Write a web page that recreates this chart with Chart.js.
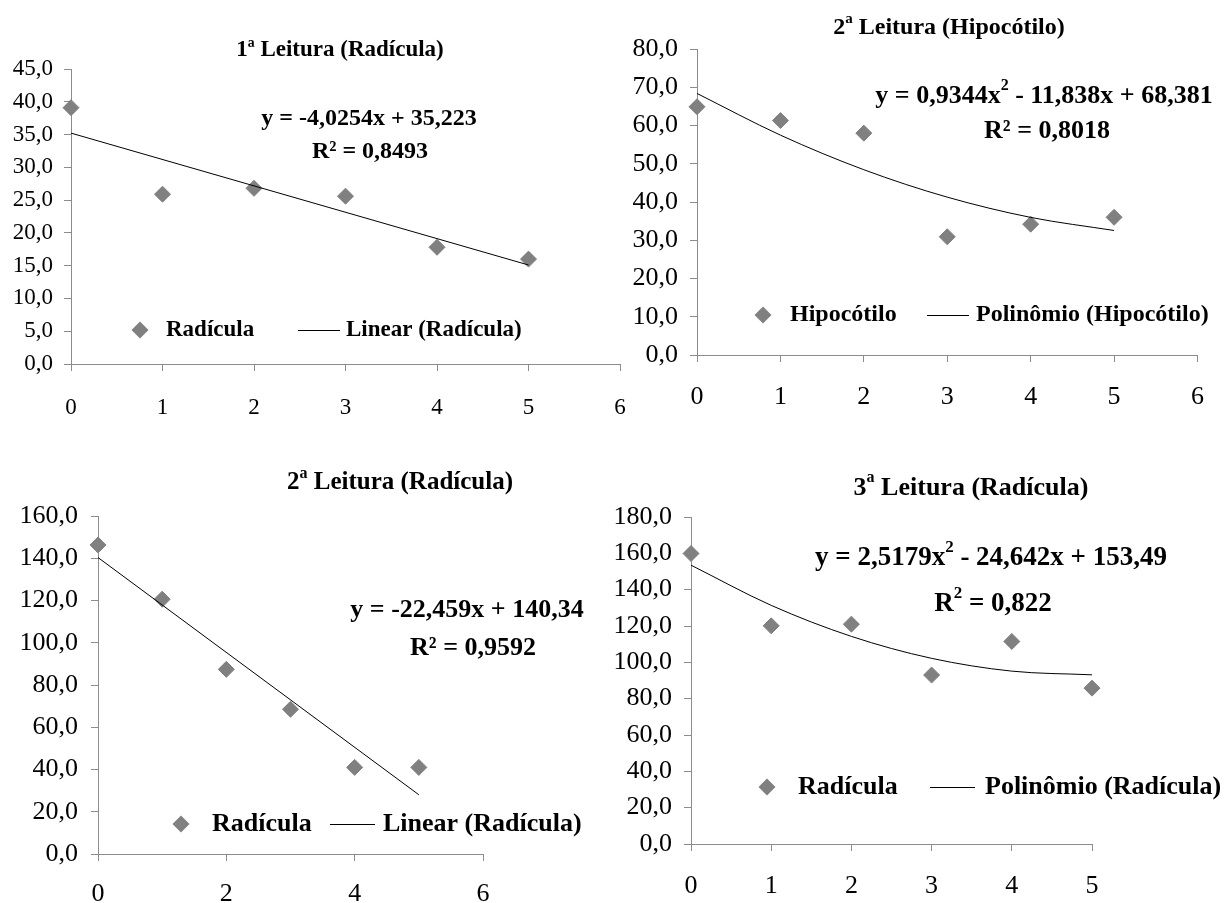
<!DOCTYPE html>
<html>
<head>
<meta charset="utf-8">
<script src="https://cdn.jsdelivr.net/npm/chart.js@4.4.1/dist/chart.umd.min.js"></script>
<style>
  html, body { margin: 0; padding: 0; background: #fff; }
  #quadro { position: relative; width: 1224px; height: 903px; overflow: hidden; }
  #quadro canvas { position: absolute; left: 0; top: 0; }
</style>
</head>
<body>
<div id="quadro">
  <canvas id="g1" width="1224" height="903"></canvas>
  <canvas id="g2" width="1224" height="903"></canvas>
  <canvas id="g3" width="1224" height="903"></canvas>
  <canvas id="g4" width="1224" height="903"></canvas>
</div>
<script>
// valores
const doses = [0, 1, 2, 3, 4, 5];

const radicula1 = [39.1, 25.9, 26.8, 25.6, 17.8, 16.0];
const tendX1 = [0, 5];
const tend1 = [35.22, 15.10];

const hipocotilo2 = [64.9, 61.3, 58.0, 30.9, 34.2, 36.0];
const tend2 = [68.38, 57.48, 48.44, 41.27, 35.98, 32.55];

const radicula2 = [146.3, 120.6, 87.4, 68.5, 41.0, 41.0];
const tendX3 = [0, 5];
const tend3 = [140.34, 28.05];

const radicula3 = [159.9, 120.1, 121.0, 93.0, 111.5, 85.8];
const tend4 = [153.49, 131.37, 114.28, 102.20, 95.16, 93.13];

// eixos: [min, max, passo]
const eixoX1 = [0, 6, 1], eixoY1 = [0, 45, 5];
const eixoX2 = [0, 6, 1], eixoY2 = [0, 80, 10];
const eixoX3 = [0, 6, 2], eixoY3 = [0, 160, 20];
const eixoX4 = [0, 5, 1], eixoY4 = [0, 180, 20];

const FONTE = '"Liberation Serif", "Times New Roman", serif';
const CINZA = '#808080';
const EIXO = '#8c8c8c';

// texto com '^' marcando o caractere sobrescrito
function textoRico(ctx, str, x, y, tam, alinhar) {
  const partes = [];
  for (let i = 0; i < str.length; i++) {
    if (str[i] === '^') { partes.push({ t: str[i + 1], sup: true }); i++; }
    else {
      const ult = partes[partes.length - 1];
      if (ult && !ult.sup) ult.t += str[i]; else partes.push({ t: str[i], sup: false });
    }
  }
  const fN = 'bold ' + tam + 'px ' + FONTE;
  const fS = 'bold ' + Math.round(tam * 0.62) + 'px ' + FONTE;
  let total = 0;
  partes.forEach(p => { ctx.font = p.sup ? fS : fN; p.w = ctx.measureText(p.t).width; total += p.w; });
  let cx = alinhar === 'left' ? x : x - total / 2;
  ctx.textAlign = 'left';
  ctx.textBaseline = 'middle';
  partes.forEach(p => {
    ctx.font = p.sup ? fS : fN;
    ctx.fillText(p.t, cx, p.sup ? y - tam * 0.38 : y);
    cx += p.w;
  });
}

function losango(ctx, x, y, r) {
  ctx.beginPath();
  ctx.moveTo(x - r, y); ctx.lineTo(x, y - r); ctx.lineTo(x + r, y); ctx.lineTo(x, y + r);
  ctx.closePath();
  ctx.fillStyle = CINZA;
  ctx.fill();
}

const sobreposicao = {
  id: 'sobreposicao',
  afterDraw(chart, args, o) {
    const ctx = chart.ctx;
    const ds = chart.data.datasets;
    const f = o.fontes; // [titulo, equacao, legenda]
    ctx.save();
    ctx.fillStyle = '#000';
    textoRico(ctx, o.titulo, o.tituloPos[0], o.tituloPos[1], f[0], 'center');
    o.eq.forEach((t, i) => textoRico(ctx, t, o.eqPos[i][0], o.eqPos[i][1], f[1], 'center'));
    const L = o.legenda; // [losango x, texto1 x, linha x0, linha x1, texto2 x, y]
    losango(ctx, L[0], L[5], 8.5);
    ctx.fillStyle = '#000';
    textoRico(ctx, ds[1].label, L[1], L[5], f[2], 'left');
    ctx.beginPath();
    ctx.moveTo(L[2], L[5] + 0.5); ctx.lineTo(L[3], L[5] + 0.5);
    ctx.strokeStyle = '#000'; ctx.lineWidth = 1; ctx.stroke();
    textoRico(ctx, ds[0].label, L[4], L[5], f[2], 'left');
    ctx.restore();
  }
};

const rotulo = v => v.toFixed(1).replace('.', ',');

function grafico(id, c) {
  new Chart(document.getElementById(id), {
    type: 'scatter',
    data: {
      datasets: [
        {
          label: c.nomeTend,
          data: c.tx.map((v, i) => ({ x: v, y: c.ty[i] })),
          showLine: true,
          pointRadius: 0,
          borderColor: '#000',
          borderWidth: 1,
          cubicInterpolationMode: 'monotone',
          clip: false,
          order: 0
        },
        {
          label: c.nome,
          data: c.x.map((v, i) => ({ x: v, y: c.y[i] })),
          pointStyle: 'rectRot',
          pointRadius: 8,
          pointHoverRadius: 8,
          backgroundColor: CINZA,
          borderColor: CINZA,
          borderWidth: 1,
          clip: false,
          order: 1
        }
      ]
    },
    options: {
      responsive: false,
      animation: false,
      events: [],
      layout: { padding: c.pad },
      plugins: {
        legend: { display: false },
        tooltip: { enabled: false },
        sobreposicao: c.texto
      },
      scales: {
        x: {
          type: 'linear',
          min: c.ex[0], max: c.ex[1],
          ticks: { stepSize: c.ex[2], padding: c.padX, color: '#000', font: { family: FONTE, size: c.fTick } },
          grid: { drawOnChartArea: false, tickLength: 7, color: EIXO },
          border: { color: EIXO },
          afterFit: s => { s.height = c.altX; }
        },
        y: {
          min: c.ey[0], max: c.ey[1],
          ticks: { stepSize: c.ey[2], padding: c.padY, color: '#000', font: { family: FONTE, size: c.fTick }, callback: rotulo },
          grid: { drawOnChartArea: false, tickLength: 7, color: EIXO },
          border: { color: EIXO },
          afterFit: s => { s.width = c.largY; }
        }
      }
    },
    plugins: [sobreposicao]
  });
}

grafico('g1', {
  nome: 'Radícula', nomeTend: 'Linear (Radícula)',
  x: doses, y: radicula1, tx: tendX1, ty: tend1,
  ex: eixoX1, ey: eixoY1, fTick: 23,
  pad: { left: 1, top: 69, right: 604, bottom: 469 }, altX: 70, padX: 23, largY: 70, padY: 11,
  texto: {
    fontes: [23, 24, 23],
    titulo: '1ª Leitura (Radícula)', tituloPos: [340, 50],
    eq: ['y = -4,0254x + 35,223', 'R² = 0,8493'], eqPos: [[369, 119], [370, 152]],
    legenda: [140, 166, 298, 340, 346, 330]
  }
});

grafico('g2', {
  nome: 'Hipocótilo', nomeTend: 'Polinômio (Hipocótilo)',
  x: doses, y: hipocotilo2, tx: doses, ty: tend2,
  ex: eixoX2, ey: eixoY2, fTick: 26,
  pad: { left: 622, top: 49, right: 13, bottom: 478 }, altX: 70, padX: 20, largY: 75, padY: 12,
  texto: {
    fontes: [24, 26, 24],
    titulo: '2^a Leitura (Hipocótilo)', tituloPos: [949, 28],
    eq: ['y = 0,9344x^2 - 11,838x + 68,381', 'R² = 0,8018'], eqPos: [[1044, 96], [1047, 131]],
    legenda: [763, 790, 927, 969, 976, 315]
  }
});

grafico('g3', {
  nome: 'Radícula', nomeTend: 'Linear (Radícula)',
  x: doses, y: radicula2, tx: tendX3, ty: tend3,
  ex: eixoX3, ey: eixoY3, fTick: 26,
  pad: { left: 8, top: 516, right: 741, bottom: 0 }, altX: 49, padX: 18, largY: 90, padY: 13,
  texto: {
    fontes: [25, 26, 26],
    titulo: '2^a Leitura (Radícula)', tituloPos: [400, 483],
    eq: ['y = -22,459x + 140,34', 'R² = 0,9592'], eqPos: [[467, 610], [473, 648]],
    legenda: [181, 212, 330, 375, 383, 824]
  }
});

grafico('g4', {
  nome: 'Radícula', nomeTend: 'Polinômio (Radícula)',
  x: doses, y: radicula3, tx: doses, ty: tend4,
  ex: eixoX4, ey: eixoY4, fTick: 26,
  pad: { left: 606, top: 517, right: 132, bottom: 0 }, altX: 59, padX: 20, largY: 85, padY: 12,
  texto: {
    fontes: [26, 27, 26],
    titulo: '3^a Leitura (Radícula)', tituloPos: [971, 488],
    eq: ['y = 2,5179x^2 - 24,642x + 153,49', 'R^2 = 0,822'], eqPos: [[991, 558], [993, 604]],
    legenda: [767, 798, 930, 975, 985, 787]
  }
});
</script>
</body>
</html>
